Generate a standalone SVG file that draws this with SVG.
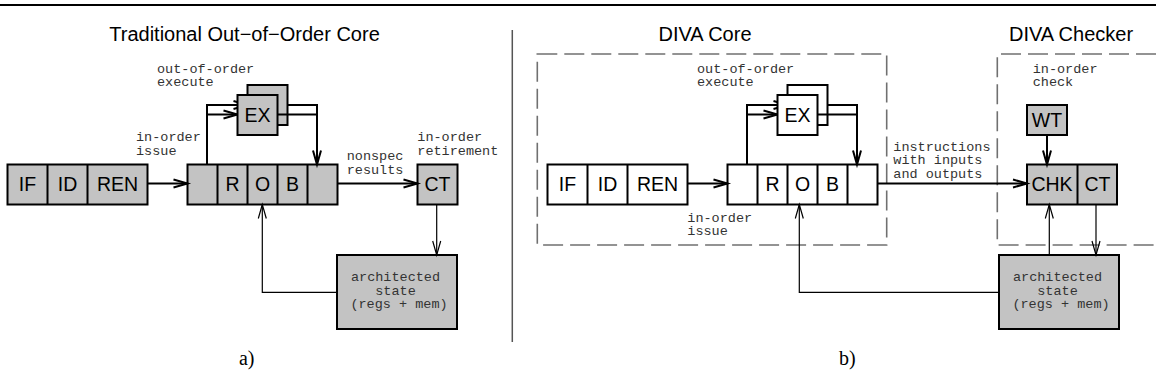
<svg xmlns="http://www.w3.org/2000/svg" width="1156" height="387" viewBox="0 0 1156 387">
<style>
.box{fill:#c3c3c3;stroke:#000;stroke-width:2}
.wbox{fill:#fff;stroke:#000;stroke-width:2}
.div{stroke:#000;stroke-width:2;fill:none}
.lbl{font-family:"Liberation Sans",Arial,sans-serif;font-size:19.5px;text-anchor:middle;fill:#000}
.title{font-family:"Liberation Sans",Arial,sans-serif;font-size:20px;text-anchor:middle;fill:#000}
.mono{font-family:"Liberation Mono","Courier New",monospace;font-size:13.5px;fill:#333}
.mid{text-anchor:middle}
.cap{font-family:"Liberation Serif","Times New Roman",serif;font-size:20px;text-anchor:middle;fill:#000}
.thick{stroke:#000;stroke-width:2;fill:none}
.thin{stroke:#000;stroke-width:1.2;fill:none}
.dash{stroke:#707070;stroke-width:1.6;stroke-dasharray:20 7;fill:none}
</style>
<defs>
<marker id="ah" markerUnits="userSpaceOnUse" markerWidth="20" markerHeight="12" viewBox="-16 -6 18 12" refX="0" refY="0" orient="auto" overflow="visible">
<path d="M-14,-4 L0,0 L-14,4" fill="none" stroke="#000" stroke-width="2"/>
</marker>
<marker id="aht" markerUnits="userSpaceOnUse" markerWidth="20" markerHeight="12" viewBox="-16 -6 18 12" refX="0" refY="0" orient="auto" overflow="visible">
<path d="M-14,-4 L0,0 L-14,4" fill="none" stroke="#000" stroke-width="1.2"/>
</marker>
</defs>

<line x1="0" y1="5" x2="1156" y2="5" stroke="#000" stroke-width="2"/>
<line x1="512.3" y1="30" x2="512.3" y2="342" stroke="#555" stroke-width="1.5"/>

<text class="title" x="244.5" y="40.7">Traditional Out−of−Order Core</text>
<text class="title" x="705" y="40.7">DIVA Core</text>
<text class="title" x="1071" y="40.7">DIVA Checker</text>

<g id="diva-core-boundary"><rect class="dash" x="537.3" y="54" width="349.4" height="191"/></g>
<g id="diva-checker-boundary"><path class="dash" d="M1156,54 H997.3 V245 H1156"/></g>

<!-- Left panel nodes -->
<g id="a-front">
<rect class="box" x="7.5" y="164.5" width="140" height="40"/>
<path class="div" d="M47.5,164.5 V204.5 M87.5,164.5 V204.5"/>
<text class="lbl" x="27.5" y="191">IF</text>
<text class="lbl" x="67.5" y="191">ID</text>
<text class="lbl" x="117.5" y="191">REN</text>
</g>
<g id="a-rob">
<rect class="box" x="187.5" y="164.5" width="150" height="40"/>
<path class="div" d="M217.5,164.5 V204.5 M247.5,164.5 V204.5 M277.5,164.5 V204.5 M307.5,164.5 V204.5"/>
<text class="lbl" x="232.5" y="191">R</text>
<text class="lbl" x="262.5" y="191">O</text>
<text class="lbl" x="292.5" y="191">B</text>
</g>
<g id="a-ex-back"><rect class="box" x="247.5" y="85" width="40" height="40"/></g>
<g id="a-ct">
<rect class="box" x="417.5" y="164.5" width="40" height="40"/>
<text class="lbl" x="437.5" y="191">CT</text>
</g>
<g id="a-state">
<rect class="box" x="337" y="255" width="120" height="74"/>
<text class="mono mid" x="395.5" y="281">architected</text>
<text class="mono mid" x="395.5" y="294.5">state</text>
<text class="mono mid" x="399" y="308">(regs + mem)</text>
</g>

<!-- Right panel nodes -->
<g id="b-front">
<rect class="wbox" x="547.5" y="164.5" width="140" height="40"/>
<path class="div" d="M587.5,164.5 V204.5 M627.5,164.5 V204.5"/>
<text class="lbl" x="567.5" y="191">IF</text>
<text class="lbl" x="607.5" y="191">ID</text>
<text class="lbl" x="657.5" y="191">REN</text>
</g>
<g id="b-rob">
<rect class="wbox" x="727.5" y="164.5" width="150" height="40"/>
<path class="div" d="M757.5,164.5 V204.5 M787.5,164.5 V204.5 M817.5,164.5 V204.5 M847.5,164.5 V204.5"/>
<text class="lbl" x="772.5" y="191">R</text>
<text class="lbl" x="802.5" y="191">O</text>
<text class="lbl" x="832.5" y="191">B</text>
</g>
<g id="b-ex-back"><rect class="wbox" x="787.5" y="85" width="40" height="40"/></g>
<g id="b-wt">
<rect class="box" x="1027" y="105" width="40" height="30"/>
<text class="lbl" x="1047" y="127">WT</text>
</g>
<g id="b-chk">
<rect class="box" x="1027" y="164.5" width="90" height="40"/>
<path class="div" d="M1077.5,164.5 V204.5"/>
<text class="lbl" x="1052" y="191">CHK</text>
<text class="lbl" x="1097.5" y="191">CT</text>
</g>
<g id="b-state">
<rect class="box" x="999" y="255" width="120" height="74"/>
<text class="mono mid" x="1057.5" y="281">architected</text>
<text class="mono mid" x="1057.5" y="294.5">state</text>
<text class="mono mid" x="1061" y="308">(regs + mem)</text>
</g>

<g id="connectors">
<path class="thick" d="M147.5,183.5 H187.5" marker-end="url(#ah)"/>
<path class="thick" d="M337.5,183.5 H417.5" marker-end="url(#ah)"/>
<path class="thick" d="M207,164.5 V105 H247.5" marker-end="url(#ah)"/>
<path class="thick" d="M207,114.5 H237.5" marker-end="url(#ah)"/>
<path class="thick" d="M287.5,105 H317 V164.5" marker-end="url(#ah)"/>
<path class="thick" d="M277.5,114.5 H317"/>
<path class="thin" d="M436.7,204.5 V255" marker-end="url(#aht)"/>
<path class="thin" d="M337,292.3 H262.3 V204.5" marker-end="url(#aht)"/>

<path class="thick" d="M687.5,183.5 H727.5" marker-end="url(#ah)"/>
<path class="thick" d="M877.5,183.5 H1027" marker-end="url(#ah)"/>
<path class="thick" d="M747,164.5 V105 H787.5" marker-end="url(#ah)"/>
<path class="thick" d="M747,114.5 H777.5" marker-end="url(#ah)"/>
<path class="thick" d="M827.5,105 H857 V164.5" marker-end="url(#ah)"/>
<path class="thick" d="M817.5,114.5 H857"/>
<path class="thick" d="M1047,135 V164.5" marker-end="url(#ah)"/>
<path class="thin" d="M1049.3,255 V204.5" marker-end="url(#aht)"/>
<path class="thin" d="M1096,204.5 V255" marker-end="url(#aht)"/>
<path class="thin" d="M999,292.3 H799.3 V204.5" marker-end="url(#aht)"/>
</g>

<g id="a-ex">
<rect class="box" x="237.5" y="95" width="40" height="40"/>
<text class="lbl" x="257.5" y="121.5">EX</text>
</g>
<g id="b-ex">
<rect class="wbox" x="777.5" y="95" width="40" height="40"/>
<text class="lbl" x="797.5" y="121.5">EX</text>
</g>

<g id="labels">
<text class="mono" x="157" y="72.7">out-of-order</text>
<text class="mono" x="157" y="86">execute</text>
<text class="mono" x="136" y="141">in-order</text>
<text class="mono" x="136" y="154.5">issue</text>
<text class="mono" x="346.7" y="160">nonspec</text>
<text class="mono" x="346.7" y="174">results</text>
<text class="mono" x="417.3" y="141">in-order</text>
<text class="mono" x="417.3" y="154.5">retirement</text>
<text class="mono" x="697" y="72.7">out-of-order</text>
<text class="mono" x="697" y="86">execute</text>
<text class="mono" x="687.3" y="221.5">in-order</text>
<text class="mono" x="687.3" y="235">issue</text>
<text class="mono" x="893.3" y="150.5">instructions</text>
<text class="mono" x="893.3" y="164.3">with inputs</text>
<text class="mono" x="893.3" y="178">and outputs</text>
<text class="mono" x="1032.7" y="72.7">in-order</text>
<text class="mono" x="1032.7" y="86">check</text>
<text class="cap" x="246.7" y="365">a)</text>
<text class="cap" x="847.3" y="364.5">b)</text>
</g>
</svg>
